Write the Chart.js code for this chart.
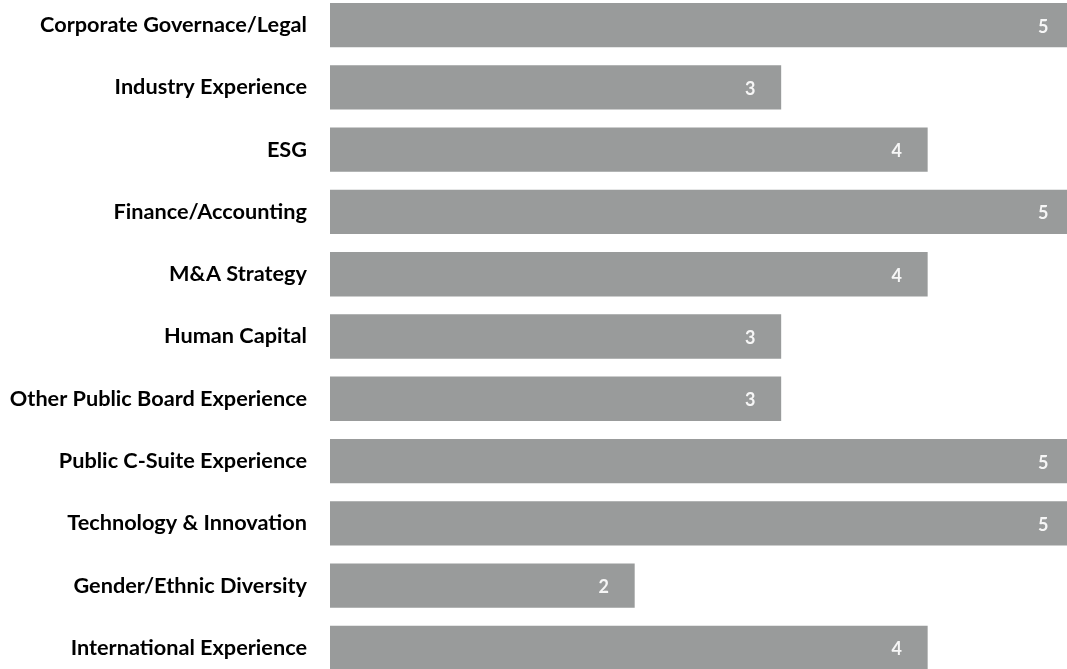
<!DOCTYPE html>
<html lang="en">
<head>
<meta charset="UTF-8">
<title>Board Skills</title>
<script src="https://cdn.jsdelivr.net/npm/chart.js@4.4.1/dist/chart.umd.min.js"></script>
<style>
  html, body { margin: 0; padding: 0; background: #fff; overflow: hidden; }
  #wrap { position: absolute; left: 0; top: -6px; width: 1080px; height: 685px; }
</style>
</head>
<body>
<div id="wrap"><canvas id="skillsChart"></canvas></div>

<script>
  // chart data
  var skills = [
    'Corporate Governace/Legal',
    'Industry Experience',
    'ESG',
    'Finance/Accounting',
    'M&A Strategy',
    'Human Capital',
    'Other Public Board Experience',
    'Public C-Suite Experience',
    'Technology & Innovation',
    'Gender/Ethnic Diversity',
    'International Experience'
  ];
  var directorCounts = [5, 3, 4, 5, 4, 3, 3, 5, 5, 2, 4];

  var axisMin = -0.08;
  var axisMax = 5.04;

  // white number near the end of each bar
  var valueLabels = {
    id: 'valueLabels',
    afterDatasetsDraw: function(chart) {
      var ctx = chart.ctx;
      var meta = chart.getDatasetMeta(0);
      ctx.save();
      ctx.fillStyle = '#f6f6f6';
      ctx.font = 'bold 18px Lato';
      ctx.textAlign = 'center';
      ctx.textBaseline = 'alphabetic';
      meta.data.forEach(function(bar, i) {
        ctx.fillText(String(directorCounts[i]), bar.x - 31, bar.y + 7.5);
      });
      ctx.restore();
    }
  };

  var chartArea = document.getElementById('skillsChart').getContext('2d');
  var skillsChart = new Chart(chartArea, {
    type: 'bar',
    data: {
      labels: skills,
      datasets: [{
        data: directorCounts,
        base: axisMin,
        backgroundColor: '#999b9b',
        borderWidth: 0,
        barPercentage: 0.712,
        categoryPercentage: 1
      }]
    },
    options: {
      indexAxis: 'y',
      responsive: true,
      maintainAspectRatio: false,
      animation: false,
      layout: { padding: 0 },
      plugins: {
        legend: { display: false },
        tooltip: { enabled: false }
      },
      scales: {
        x: {
          display: false,
          min: axisMin,
          max: axisMax
        },
        y: {
          grid: { display: false, drawTicks: false },
          border: { display: false },
          ticks: {
            padding: 23,
            color: '#000',
            font: { family: 'Lato', weight: 'bold', size: 21.7 }
          },
          afterFit: function(scale) {
            scale.width = 330;
            scale.paddingTop = 0;
            scale.paddingBottom = 0;
          }
        }
      }
    },
    plugins: [valueLabels]
  });
</script>
</body>
</html>
